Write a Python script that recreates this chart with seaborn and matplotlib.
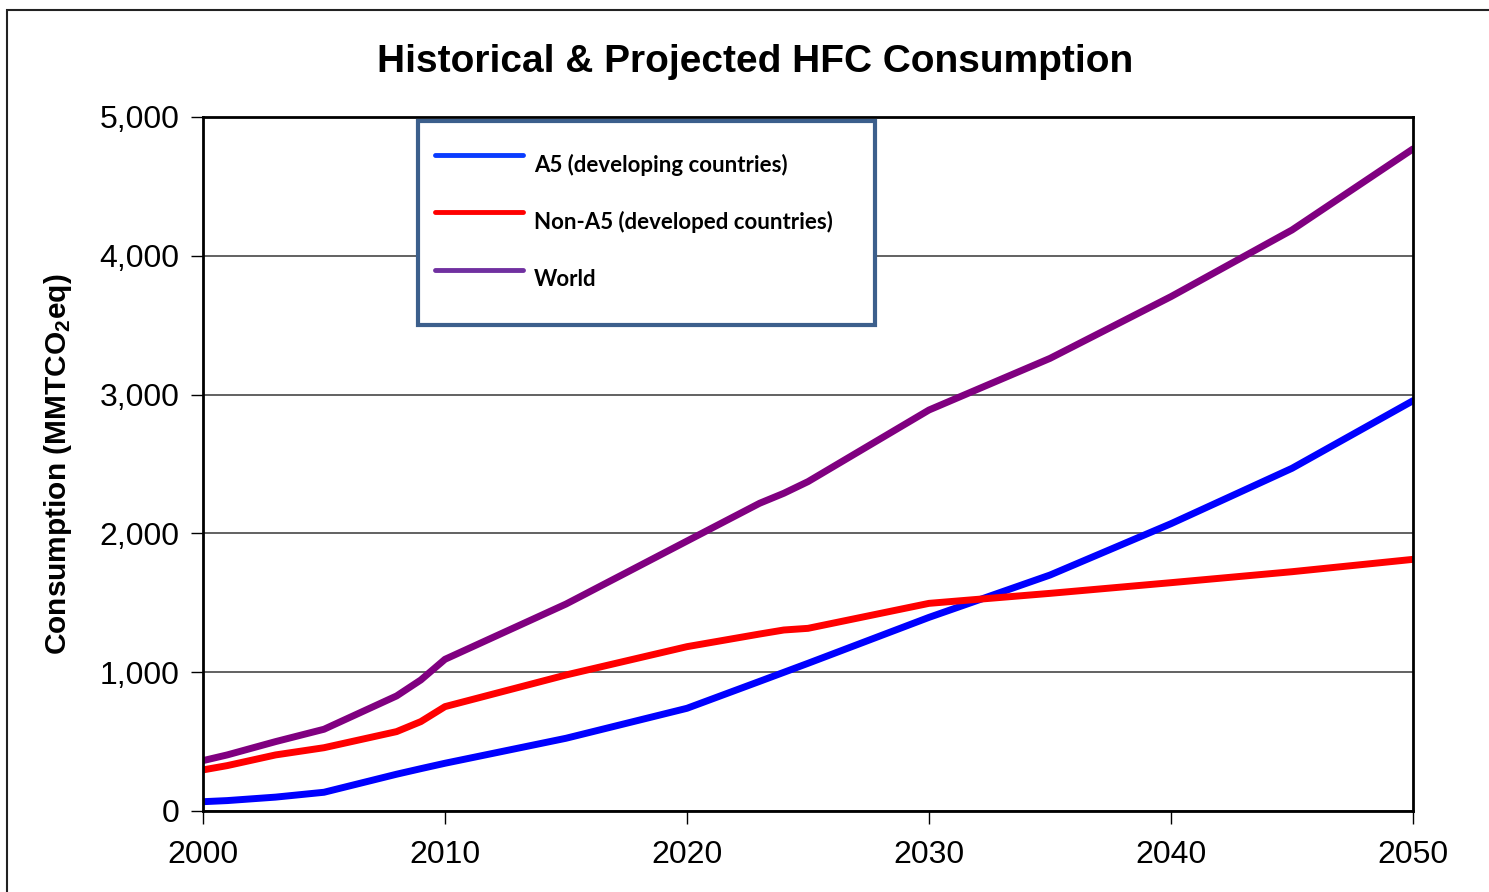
import pandas as pd
import matplotlib.pyplot as plt
from matplotlib.lines import Line2D
from matplotlib.patches import Rectangle
import seaborn as sns

# Values (MMTCO2eq)
years = [2000, 2001, 2003, 2005, 2008, 2009, 2010, 2015, 2020, 2023, 2024, 2025,
         2030, 2035, 2040, 2045, 2050]
a5 = [67, 75, 100, 135, 265, 305, 344, 524, 740, 934, 999, 1064,
      1395, 1700, 2070, 2469, 2956]
non_a5 = [296, 327, 404, 456, 572, 644, 752, 980, 1184, 1275, 1304, 1316,
          1496, 1568, 1645, 1724, 1813]
world = [363, 404, 500, 589, 829, 944, 1093, 1491, 1945, 2217, 2289, 2373,
         2889, 3261, 3706, 4186, 4770]

series_names = ['A5 (developing countries)', 'Non-A5 (developed countries)', 'World']
line_colors = ['#0000FF', '#FF0000', '#800080']
legend_colors = ['#0A3CFF', '#FF0000', '#7030A0']
y_ticks = [0, 1000, 2000, 3000, 4000, 5000]
x_ticks = [2000, 2010, 2020, 2030, 2040, 2050]

df = pd.DataFrame({'Year': years * 3,
                   'Value': a5 + non_a5 + world,
                   'Series': [n for n in series_names for _ in years]})

sns.set_style('ticks')
plt.rcParams['font.family'] = ['Liberation Sans', 'DejaVu Sans']
plt.rcParams['text.color'] = 'black'
plt.rcParams['axes.labelcolor'] = 'black'
plt.rcParams['mathtext.fontset'] = 'custom'
plt.rcParams['mathtext.rm'] = 'Liberation Sans:bold'
plt.rcParams['mathtext.it'] = 'Liberation Sans:bold'

fig = plt.figure(figsize=(14.89, 8.92), dpi=100)
ax = fig.add_axes([203 / 1489, 81 / 892, 1210 / 1489, 694 / 892])

# outer frame of the original slide graphic
fig.patches.append(Rectangle((7 / 1489, -0.05), 1.2, 1 - 10 / 892 + 0.05,
                             transform=fig.transFigure, fill=False,
                             edgecolor='#222222', linewidth=1.5))

sns.lineplot(data=df, x='Year', y='Value', hue='Series', palette=line_colors,
             linewidth=5, ax=ax, legend=False)

ax.set_xlim(2000, 2050)
ax.set_ylim(0, 5000)
ax.set_xticks(x_ticks)
ax.set_yticks(y_ticks)
ax.set_yticklabels([f'{v:,}' for v in y_ticks])
ax.tick_params(axis='both', labelsize=23, length=9, width=1, direction='out',
               colors='black')
ax.tick_params(axis='x', pad=12)
ax.tick_params(axis='y', pad=8)
ax.yaxis.grid(True, color='#555555', linewidth=1.3)
ax.set_axisbelow(True)
for sp in ax.spines.values():
    sp.set_color('black')
    sp.set_linewidth(2)

ax.set_xlabel('')
ax.set_ylabel('Consumption (MMTCO$_2$eq)', fontsize=21.5, fontweight='bold')
ax.yaxis.set_label_coords(-0.107, 0.5)

fig.text(755 / 1489, 1 - 62 / 892, 'Historical & Projected HFC Consumption',
         ha='center', va='center', fontsize=28, fontweight='bold')

handles = [Line2D([], [], color=c, linewidth=3.5) for c in legend_colors]
leg = ax.legend(handles, series_names, loc='upper left',
                bbox_to_anchor=(0.1777, 0.7075, 0.3777, 0.2867), mode='expand',
                frameon=True, fancybox=False, borderaxespad=0,
                prop={'family': 'Lato', 'weight': 'bold', 'size': 16},
                handlelength=3.95, handleheight=3.4, handletextpad=0.5,
                labelspacing=0.12, borderpad=0.78)
leg.get_frame().set_edgecolor('#3C5F8C')
leg.get_frame().set_linewidth(3)
leg.get_frame().set_alpha(1)

fig.savefig('out.png', dpi=100)
